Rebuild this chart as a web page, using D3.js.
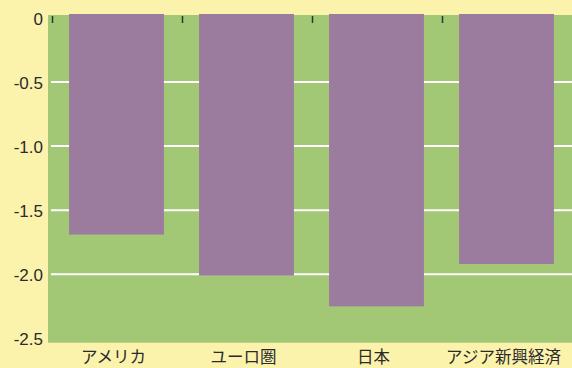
<!DOCTYPE html>
<html><head><meta charset="utf-8">
<script src="https://cdn.jsdelivr.net/npm/d3@7/dist/d3.min.js"></script>
<style>
html,body{margin:0;padding:0;background:#fbf2ab;}
svg{display:block;}
</style></head>
<body>
<script>
const categories = ["アメリカ", "ユーロ圏", "日本", "アジア新興経済"];
const values = [-1.69, -2.01, -2.25, -1.92];
const yTicks = [0, -0.5, -1.0, -1.5, -2.0, -2.5];
const yTickLabels = ["0", "-0.5", "-1.0", "-1.5", "-2.0", "-2.5"];

const W = 572, H = 368;
const plot = {left: 48, top: 15, right: 572, bottom: 342.7};
const svg = d3.select("body").append("svg").attr("width", W).attr("height", H);

svg.append("rect").attr("width", W).attr("height", H).attr("fill", "#fbf2ab");
svg.append("rect").attr("x", plot.left).attr("y", plot.top)
  .attr("width", plot.right - plot.left).attr("height", plot.bottom - plot.top)
  .attr("fill", "#a3c875");

const y = d3.scaleLinear().domain([0, -2.5]).range([17.9, 338.4]);
const x = d3.scaleBand().domain(categories).range([51.5, 571.5])
  .paddingInner(0.27).paddingOuter(0.135);

// gridlines
svg.append("g").selectAll("line").data(yTicks.filter(t => t !== 0 && t !== -2.5)).join("line")
  .attr("x1", 51).attr("x2", plot.right)
  .attr("y1", d => y(d)).attr("y2", d => y(d))
  .attr("stroke", "#ffffff").attr("stroke-width", 2);

// bars
svg.append("g").selectAll("rect").data(categories).join("rect")
  .attr("x", d => x(d))
  .attr("y", plot.top - 1)
  .attr("width", x.bandwidth())
  .attr("height", (d, i) => y(values[i]) - (plot.top - 1))
  .attr("fill", "#9b7b9e");

// top ticks at band boundaries
const bounds = categories.map(d => x(d) - x.step() * x.paddingInner() / 2 + 1);
svg.append("g").selectAll("line").data(bounds).join("line")
  .attr("x1", d => d).attr("x2", d => d)
  .attr("y1", 16).attr("y2", 23)
  .attr("stroke", "#333").attr("stroke-width", 1.5);

// y axis
const yAxis = d3.axisLeft(y).tickValues(yTicks)
  .tickFormat((d, i) => yTickLabels[i]).tickSize(0).tickPadding(0);
const gy = svg.append("g").attr("transform", "translate(43,0)").call(yAxis);
gy.select(".domain").remove();
gy.selectAll("text").attr("font-family", "Liberation Sans, Arial, sans-serif")
  .attr("font-size", 17).attr("fill", "#2b2b2b")
  .attr("dy", "0.36em");

// x labels
svg.append("g").selectAll("text").data(categories).join("text")
  .attr("x", d => x(d) + x.bandwidth() / 2 - 3)
  .attr("y", 363)
  .attr("text-anchor", "middle")
  .attr("font-family", "Noto Sans CJK JP, sans-serif")
  .attr("font-size", 16.5).attr("fill", "#2b2b2b")
  .text(d => d);
</script>
</body></html>
